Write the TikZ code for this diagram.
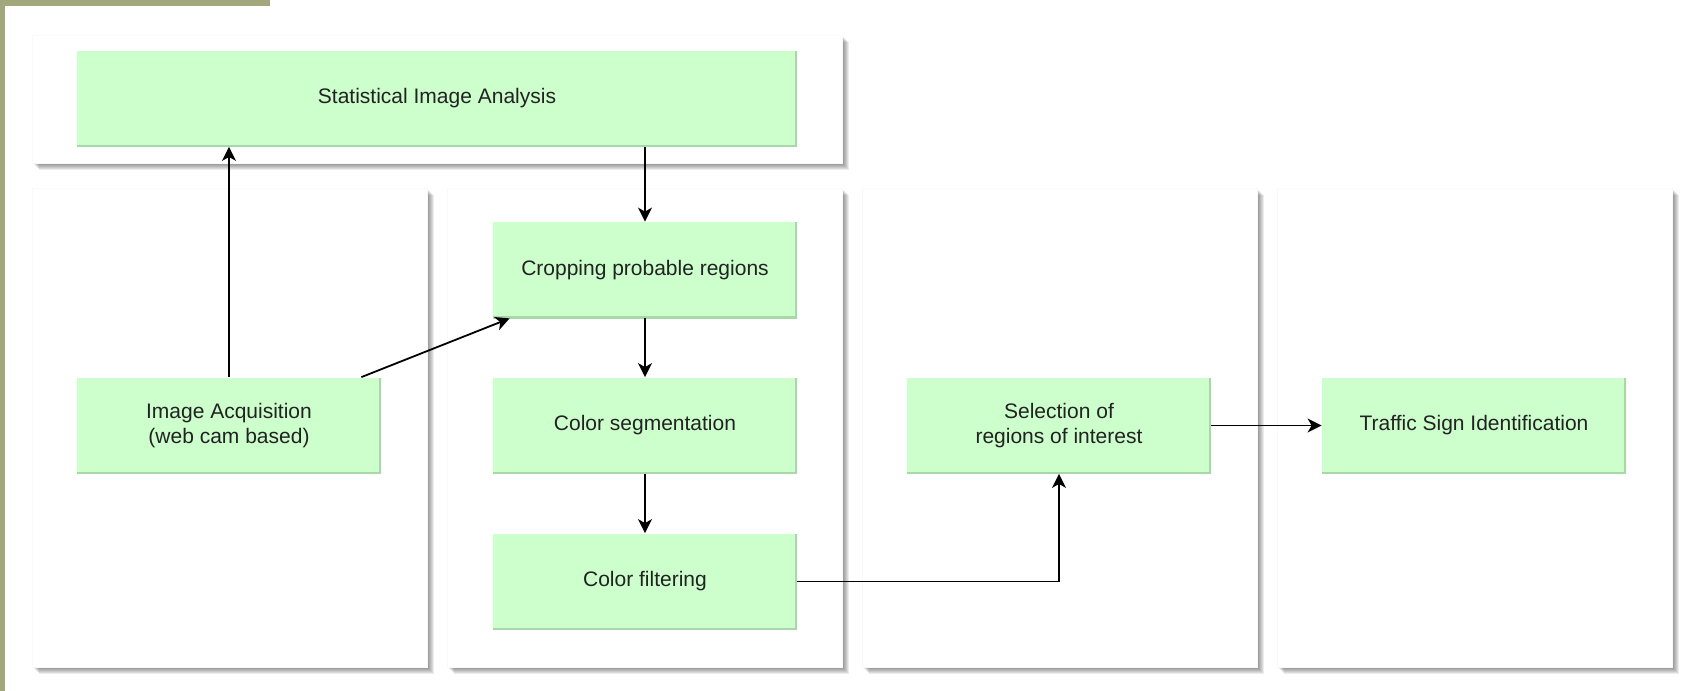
\documentclass[tikz,border=0pt]{standalone}
\usepackage{fontspec}
\setmainfont{Liberation Sans}
\usetikzlibrary{arrows.meta,calc,positioning}
\definecolor{boxgreen}{HTML}{CCFFCC}
\definecolor{boxedge}{HTML}{A8D8A8}
\definecolor{olivebar}{HTML}{A3A87C}
\definecolor{textgray}{HTML}{222222}

\begin{document}
\begin{tikzpicture}[x=0.5pt, y=-0.5pt,
	stagebox/.style={rectangle, fill=boxgreen, inner sep=0pt,
		minimum width=152pt, minimum height=48pt, align=center,
		text=textgray, font=\fontsize{10.5pt}{12.5pt}\selectfont,
		path picture={\draw[boxedge, line width=2pt]
			(path picture bounding box.south west) -- (path picture bounding box.south east)
			-- (path picture bounding box.north east);}},
	flow/.style={-{Stealth[length=7pt, width=7pt, inset=2pt]}, line width=0.9pt, black}]
	\fill[white] (0,0) rectangle (1683,691);
	\useasboundingbox (0,0) rectangle (1683,691);
	\fill[olivebar] (0,0) rectangle (5,691);
	\fill[olivebar] (0,0) rectangle (270,6);
	\foreach \xa/\ya/\xb/\yb in {32/35/842/163, 32/188/427/667, 447/188/842/667,
		862/188/1257/667, 1277/188/1672/667} {
		\foreach \o in {1,...,7}
			\fill[black, opacity=0.075] (\xa+\o,\ya+\o) rectangle (\xb+\o,\yb+\o);
		\fill[white, draw=gray!5] (\xa,\ya) rectangle (\xb,\yb);
	}
	\begin{scope}[every node/.style={stagebox}]
		\node[minimum width=360pt] (stat) at (437,98.5) {Statistical Image Analysis};
		\node (acq) at (229,425.5) {Image Acquisition\\(web cam based)};
		\node (crop) at (645,270) {Cropping probable regions};
		\node (seg) at (645,425.5) {Color segmentation};
		\node (filt) at (645,581.5) {Color filtering};
		\node (sel) at (1059,425.5) {Selection of\\regions of interest};
		\node (traf) at (1474,425.5) {Traffic Sign Identification};
	\end{scope}
	\begin{scope}[every path/.style={flow}]
		\draw (acq.north) -- (acq.north |- stat.south);
		\draw (stat.south -| crop.north) -- (crop.north);
		\draw ($(acq.north east)+(-20,0)$) -- ($(crop.south west)+(17,0)$);
		\draw (crop) -- (seg);
		\draw (seg) -- (filt);
		\draw (filt.east) -| (sel.south);
		\draw (sel) -- (traf);
	\end{scope}
\end{tikzpicture}
\end{document}
